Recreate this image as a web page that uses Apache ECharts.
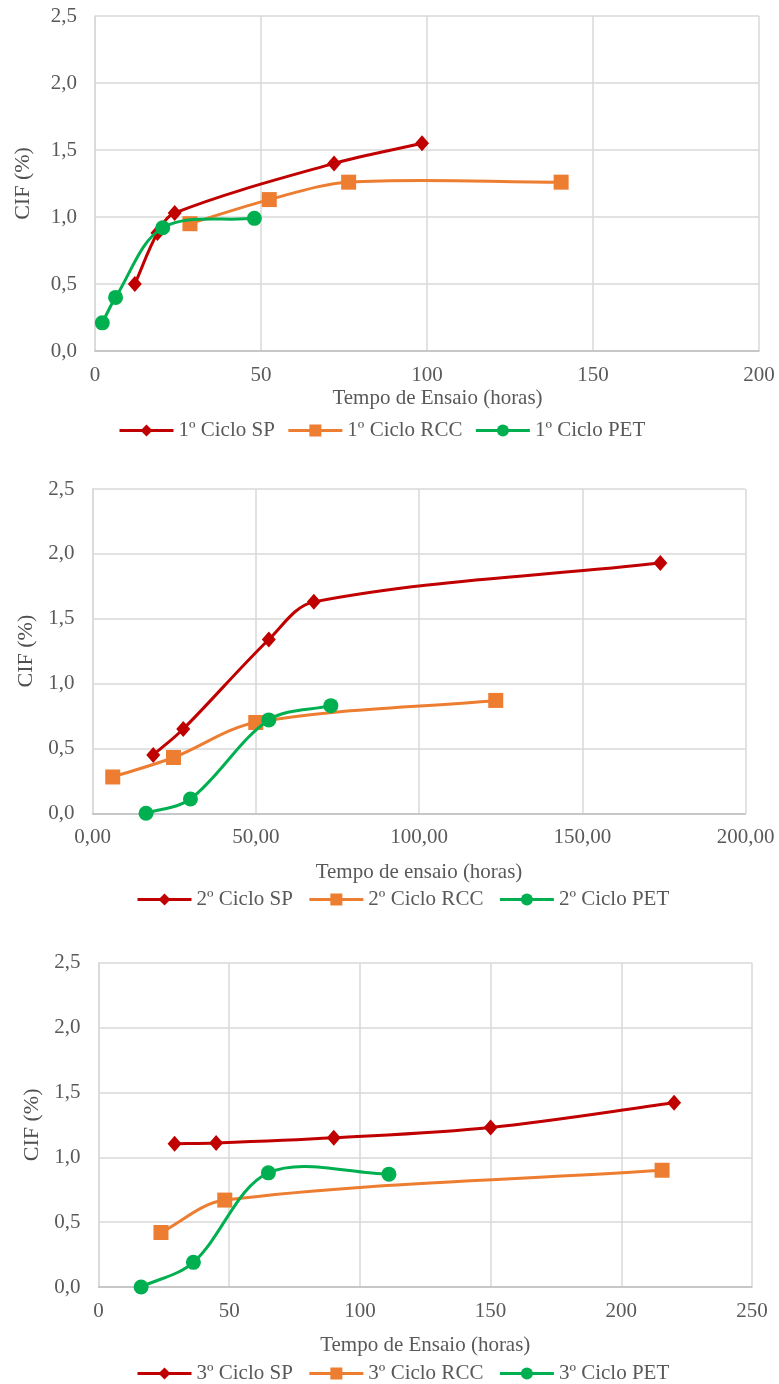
<!DOCTYPE html>
<html>
<head>
<meta charset="utf-8">
<script src="https://cdn.jsdelivr.net/npm/echarts@6/dist/echarts.min.js"></script>
<style>
html,body{margin:0;padding:0;background:#fff;}
#main{width:779px;height:1384px;}
</style>
</head>
<body>
<div id="main"></div>
<script>
// ---------- DATA ----------
// Chart 1 (1º Ciclo)
const c1_sp_x  = [12, 18.8, 24, 72, 98.5];
const c1_sp_y  = [0.50, 0.88, 1.03, 1.40, 1.55];
const c1_rcc_x = [28.6, 52.5, 76.4, 140.4];
const c1_rcc_y = [0.95, 1.13, 1.26, 1.26];
const c1_pet_x = [2.2, 6.2, 20.4, 48];
const c1_pet_y = [0.21, 0.40, 0.92, 0.99];
// Chart 2 (2º Ciclo)
const c2_sp_x  = [18.6, 27.8, 54.0, 67.8, 173.9];
const c2_sp_y  = [0.45, 0.65, 1.34, 1.63, 1.93];
const c2_rcc_x = [6.2, 24.8, 50.0, 123.5];
const c2_rcc_y = [0.28, 0.43, 0.70, 0.87];
const c2_pet_x = [16.4, 30.0, 54.0, 73.0];
const c2_pet_y = [0.00, 0.11, 0.72, 0.83];
// Chart 3 (3º Ciclo)
const c3_sp_x  = [29.1, 45, 90, 150, 220.2];
const c3_sp_y  = [1.105, 1.11, 1.15, 1.23, 1.42];
const c3_rcc_x = [23.9, 48.3, 215.6];
const c3_rcc_y = [0.42, 0.67, 0.90];
const c3_pet_x = [16.3, 36.3, 65, 111.1];
const c3_pet_y = [0.00, 0.19, 0.88, 0.87];

const seriesNames1 = ['1º Ciclo SP', '1º Ciclo RCC', '1º Ciclo PET'];
const seriesNames2 = ['2º Ciclo SP', '2º Ciclo RCC', '2º Ciclo PET'];
const seriesNames3 = ['3º Ciclo SP', '3º Ciclo RCC', '3º Ciclo PET'];
const xTitles = ['Tempo de Ensaio (horas)', 'Tempo de ensaio (horas)', 'Tempo de Ensaio (horas)'];
const yTitle = 'CIF (%)';
const xMaxes = [200, 200, 250];
const xIntervals = [50, 50, 50];
const xDecimals = [0, 2, 0];
const yMax = 2.5, yInterval = 0.5;

// ---------- STYLE ----------
const FONT = 'Liberation Serif';
const TXT = '#595959';
const COLORS = ['#C00000', '#ED7D31', '#00B050'];
const SYMBOLS = ['diamond', 'rect', 'circle'];
const SYMSIZES = [[14, 16], 15, 15];
const LW = 3;
const K = 1 / 3;

const grids = [
  {left: 95, top: 16, width: 664, height: 335},
  {left: 92.5, top: 489, width: 653, height: 324.3},
  {left: 98.5, top: 962.7, width: 653.5, height: 324.3}
];
const xNameGap = [36.5, 49, 47.5];
const xNamePad = [[0, 0, 0, 21], [0, 0, 0, 0], [0, 0, 0, 0]];
const yNameGap = [61, 53, 52.5];
const legendPos = [{left: 118, top: 420, gap: 12}, {left: 136, top: 889, gap: 15}, {left: 136, top: 1363, gap: 15}];

const chartData = [
  {names: seriesNames1, xs: [c1_sp_x, c1_rcc_x, c1_pet_x], ys: [c1_sp_y, c1_rcc_y, c1_pet_y]},
  {names: seriesNames2, xs: [c2_sp_x, c2_rcc_x, c2_pet_x], ys: [c2_sp_y, c2_rcc_y, c2_pet_y]},
  {names: seriesNames3, xs: [c3_sp_x, c3_rcc_x, c3_pet_x], ys: [c3_sp_y, c3_rcc_y, c3_pet_y]}
];

function dist(a, b) { return Math.hypot(a[0] - b[0], a[1] - b[1]); }
function ctrl(prev, cur, next, dir) {
  const lp = dist(prev, cur), ln = dist(cur, next);
  if (lp + ln === 0) return cur.slice();
  const vx = next[0] - prev[0], vy = next[1] - prev[1];
  const r = dir > 0 ? ln / (lp + ln) : lp / (lp + ln);
  return [cur[0] + dir * vx * K * r, cur[1] + dir * vy * K * r];
}

function makeCurve(xs, ys, color, gi, z) {
  return {
    type: 'custom', xAxisIndex: gi, yAxisIndex: gi, z: z, silent: true, clip: false,
    data: xs.map((x, i) => [x, ys[i]]),
    encode: {x: 0, y: 1},
    renderItem: function (params, api) {
      const i = params.dataIndex;
      if (i >= xs.length - 1) return null;
      const P = xs.map((x, k) => api.coord([x, ys[k]]));
      const p0 = P[Math.max(i - 1, 0)], p1 = P[i], p2 = P[i + 1], p3 = P[Math.min(i + 2, P.length - 1)];
      const a = ctrl(p0, p1, p2, 1);
      const b = ctrl(p1, p2, p3, -1);
      return {
        type: 'bezierCurve',
        shape: {x1: p1[0], y1: p1[1], x2: p2[0], y2: p2[1], cpx1: a[0], cpy1: a[1], cpx2: b[0], cpy2: b[1]},
        style: {stroke: color, lineWidth: LW, fill: 'none', lineCap: 'round'}
      };
    }
  };
}

const textStyle = {fontFamily: FONT, fontSize: 21, color: TXT};
const option = {
  animation: false,
  backgroundColor: '#ffffff',
  grid: grids,
  xAxis: [], yAxis: [], legend: [], series: []
};

chartData.forEach((cd, gi) => {
  option.xAxis.push({
    gridIndex: gi, type: 'value', min: 0, max: xMaxes[gi], interval: xIntervals[gi],
    axisLine: {show: true, lineStyle: {color: '#BFBFBF', width: 1.5}},
    axisTick: {show: false},
    splitLine: {show: true, lineStyle: {color: '#D9D9D9', width: 1.5}},
    axisLabel: {margin: 14, fontFamily: FONT, fontSize: 21, color: TXT,
      formatter: v => v.toFixed(xDecimals[gi]).replace('.', ',')},
    name: xTitles[gi], nameLocation: 'middle', nameGap: xNameGap[gi],
    nameTextStyle: {fontFamily: FONT, fontSize: 21, color: TXT, padding: xNamePad[gi]}
  });
  option.yAxis.push({
    gridIndex: gi, type: 'value', min: 0, max: yMax, interval: yInterval,
    axisLine: {show: true, lineStyle: {color: '#D9D9D9', width: 1.5}},
    axisTick: {show: false},
    splitLine: {show: true, lineStyle: {color: '#D9D9D9', width: 1.5}},
    axisLabel: {margin: 18, fontFamily: FONT, fontSize: 21, color: TXT,
      formatter: v => v.toFixed(1).replace('.', ',')},
    name: yTitle, nameLocation: 'middle', nameGap: yNameGap[gi], nameRotate: 90,
    nameTextStyle: {fontFamily: FONT, fontSize: 22, color: '#505050'}
  });
  option.legend.push({
    data: cd.names, left: legendPos[gi].left, top: legendPos[gi].top, padding: 0,
    itemGap: legendPos[gi].gap, itemWidth: 54, itemHeight: 15,
    textStyle: textStyle, selectedMode: false,
    lineStyle: {width: LW, opacity: 1},
    itemStyle: {opacity: 1}
  });
  cd.names.forEach((nm, si) => {
    option.series.push(makeCurve(cd.xs[si], cd.ys[si], COLORS[si], gi, 2 + 2 * si));
    option.series.push({
      type: 'line', name: nm, xAxisIndex: gi, yAxisIndex: gi, z: 3 + 2 * si,
      data: cd.xs[si].map((x, i) => [x, cd.ys[si][i]]),
      symbol: SYMBOLS[si], symbolSize: SYMSIZES[si], showSymbol: true,
      color: COLORS[si],
      itemStyle: {color: COLORS[si], opacity: 1},
      lineStyle: {color: COLORS[si], width: LW, opacity: 0},
      silent: true, emphasis: {disabled: true}
    });
  });
});

const chart = echarts.init(document.getElementById('main'), null, {renderer: 'canvas'});
chart.setOption(option);
</script>
</body>
</html>
